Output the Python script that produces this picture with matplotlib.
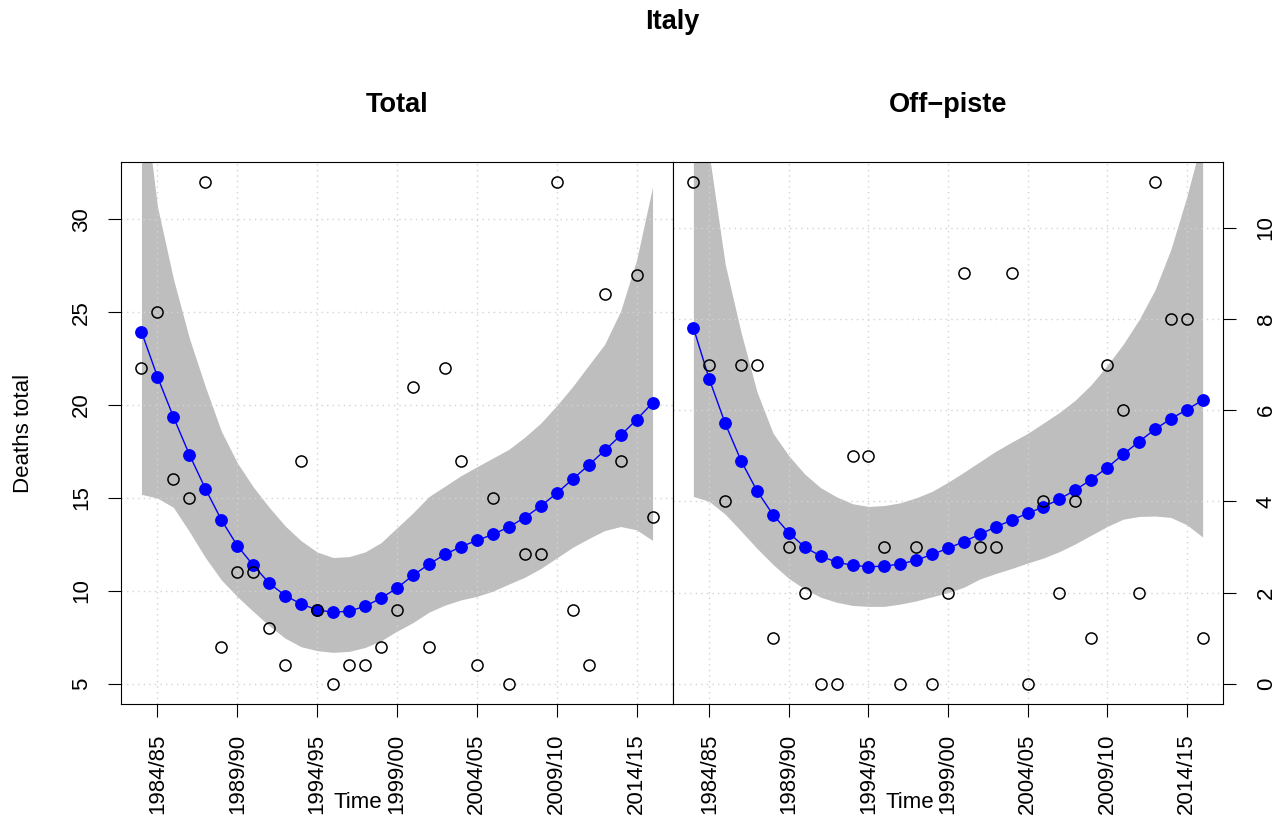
import matplotlib
matplotlib.use("Agg")
import matplotlib.pyplot as plt
import numpy as np

plt.rcParams['font.family'] = ['Liberation Sans', 'DejaVu Sans']

# seasons 1983/84 .. 2015/16
seasons = ["%d/%02d" % (y, (y + 1) % 100) for y in range(1983, 2016)]

total = [22, 25, 16, 15, 32, 7, 11, 11, 8, 6, 17, 9, 5, 6, 6, 7, 9,
         21, 7, 22, 17, 6, 15, 5, 12, 12, 32, 9, 6, 26, 17, 27, 14]
total_fit = [23.95, 21.53, 19.37, 17.34, 15.51, 13.83, 12.44, 11.38, 10.42, 9.75, 9.30,
             8.98, 8.86, 8.91, 9.18, 9.61, 10.16, 10.84, 11.44, 11.97, 12.38, 12.72,
             13.04, 13.44, 13.95, 14.57, 15.26, 16.02, 16.77, 17.56, 18.37, 19.22, 20.12]
total_lo = [15.2, 15.0, 14.5, 13.2, 11.8, 10.6, 9.7, 8.9, 8.13, 7.46, 7.0, 6.79, 6.7,
            6.75, 6.96, 7.32, 7.84, 8.3, 8.86, 9.24, 9.52, 9.71, 9.99, 10.37, 10.74,
            11.21, 11.78, 12.35, 12.82, 13.25, 13.47, 13.29, 12.72]
total_hi = [37.7, 30.7, 26.8, 23.6, 21.0, 18.6, 16.9, 15.6, 14.5, 13.5, 12.7, 12.1, 11.8,
            11.85, 12.1, 12.6, 13.4, 14.2, 15.08, 15.64, 16.2, 16.68, 17.15, 17.62, 18.28,
            19.03, 19.97, 21.0, 22.14, 23.27, 25.06, 27.8, 31.74]

offpiste = [11, 7, 4, 7, 7, 1, 3, 2, 0, 0, 5, 5, 3, 0, 3, 0, 2,
            9, 3, 3, 9, 0, 4, 2, 4, 1, 7, 6, 2, 11, 8, 8, 1]
off_fit = [7.81, 6.68, 5.71, 4.89, 4.23, 3.71, 3.31, 3.0, 2.80, 2.67, 2.60, 2.57, 2.58,
           2.63, 2.71, 2.84, 2.97, 3.12, 3.28, 3.44, 3.59, 3.74, 3.88, 4.05, 4.25, 4.48,
           4.74, 5.03, 5.31, 5.58, 5.81, 6.01, 6.22]
off_lo = [4.11, 4.0, 3.72, 3.35, 2.97, 2.62, 2.31, 2.08, 1.90, 1.79, 1.72, 1.70, 1.70,
          1.75, 1.82, 1.91, 2.0, 2.12, 2.30, 2.42, 2.53, 2.65, 2.76, 2.90, 3.07, 3.26,
          3.45, 3.61, 3.67, 3.68, 3.65, 3.49, 3.22]
off_hi = [14.8, 11.6, 9.2, 7.7, 6.4, 5.5, 5.0, 4.6, 4.3, 4.1, 3.95, 3.89, 3.91, 3.97,
          4.08, 4.22, 4.42, 4.64, 4.87, 5.10, 5.30, 5.49, 5.72, 5.95, 6.22, 6.56, 6.98,
          7.44, 7.98, 8.63, 9.52, 10.67, 12.0]

total_yticks = [5, 10, 15, 20, 25, 30]
off_yticks = [0, 2, 4, 6, 8, 10]

W, H = 1283, 823
fig = plt.figure(figsize=(W / 100, H / 100), dpi=100)


def box(l, t, r, b):
    return [l / W, 1 - b / H, (r - l) / W, (b - t) / H]


def panel(ax, obs, fit, lo, hi, yticks, right):
    x = np.arange(1, len(obs) + 1)
    n = len(obs)
    ax.fill_between(x, lo, hi, color='#BEBEBE', lw=0, zorder=1)
    ax.plot(x, fit, '-o', color='blue', lw=1.0, ms=8.2, zorder=3)
    ax.plot(x, obs, 'o', mfc='none', mec='black', ms=8, mew=1.1, zorder=4)

    # R style 4% padding
    xpad = 0.04 * (n - 1)
    ax.set_xlim(1 - xpad, n + xpad)
    ymin, ymax = min(obs), max(obs)
    ypad = 0.04 * (ymax - ymin)
    ax.set_ylim(ymin - ypad, ymax + ypad)

    xt = list(range(2, n + 1, 5))
    ax.set_xticks(xt)
    ax.set_xticklabels([seasons[i - 1] for i in xt], rotation=90, fontsize=16)
    ax.set_yticks(yticks)
    ax.set_yticklabels([str(v) for v in yticks], rotation=90, va='center', fontsize=16)
    ax.tick_params(length=9.5, width=0.8)
    ax.tick_params(axis='x', pad=12)
    if right:
        ax.yaxis.tick_right()
        ax.tick_params(axis='y', pad=14)
    else:
        ax.tick_params(axis='y', pad=11.5)
    # dotted lightgray grid, on top of the band like R's grid()
    for v in xt:
        ax.axvline(v, color='#D3D3D3', lw=1.0, dashes=(1, 3), zorder=2)
    for v in yticks:
        ax.axhline(v, color='#D3D3D3', lw=1.0, dashes=(1, 3), zorder=2)
    for s in ax.spines.values():
        s.set_linewidth(0.8)
        s.set_zorder(5)


ax1 = fig.add_axes(box(121, 162, 673, 704))
ax2 = fig.add_axes(box(673, 162, 1223, 704))
panel(ax1, total, total_fit, total_lo, total_hi, total_yticks, False)
panel(ax2, offpiste, off_fit, off_lo, off_hi, off_yticks, True)

fig.text(672 / W, 1 - 22 / H, 'Italy', ha='center', va='center', fontsize=19.5, fontweight='bold')
fig.text(397 / W, 1 - 105 / H, 'Total', ha='center', va='center', fontsize=19.5, fontweight='bold')
fig.text(948 / W, 1 - 105 / H, 'Off\u2212piste', ha='center', va='center', fontsize=19.5, fontweight='bold')
fig.text(24 / W, 1 - 433 / H, 'Deaths total', rotation=90, ha='center', va='center', fontsize=16)
fig.text(358 / W, 1 - 803 / H, 'Time', ha='center', va='center', fontsize=16)
fig.text(910 / W, 1 - 803 / H, 'Time', ha='center', va='center', fontsize=16)

fig.savefig('out.png', dpi=100)
